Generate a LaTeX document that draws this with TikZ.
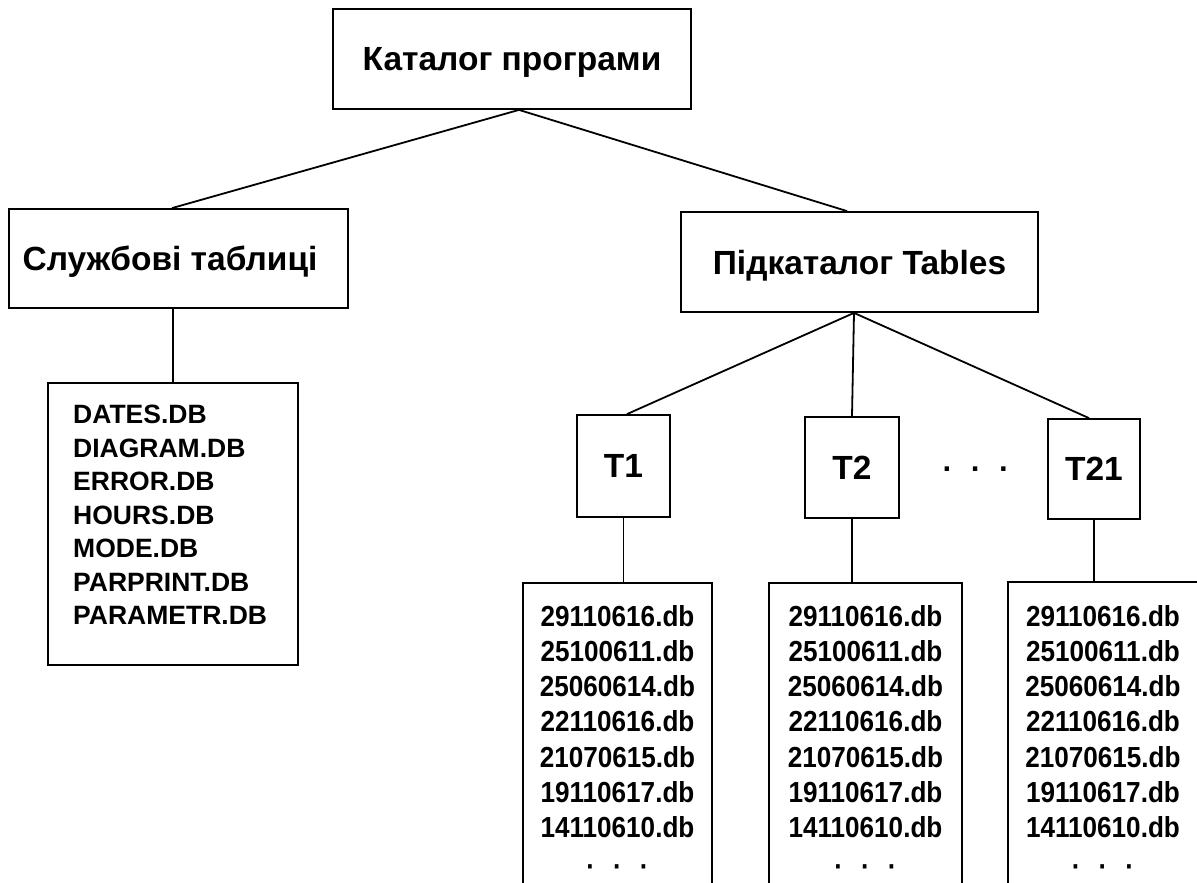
\documentclass[tikz,border=0pt]{standalone}
\usepackage{fontspec}
\setmainfont{Liberation Sans}
\newfontfamily\numfont[FakeStretch=0.9]{Liberation Sans Bold}
\newcommand\headfont{\fontsize{33.5}{40}\selectfont\bfseries}
\newcommand\dotrow{·\hskip18pt·\hskip18pt·}
\tikzset{
  box/.style={draw, line width=1.8pt, inner sep=0pt, text depth=0pt, font=\headfont},
  frame/.style={inner sep=0pt},
  link/.style={line width=1.8pt},
  filelist/.style={align=left, inner sep=0pt, font=\fontsize{26.5}{33.5}\selectfont\bfseries},
  numlist/.style={align=center, inner sep=0pt, font=\numfont\fontsize{29}{35.2}\selectfont},
}
\begin{document}
\begin{tikzpicture}[x=1pt, y=-1pt]
\useasboundingbox (0,0) rectangle (1197,883);
% header boxes
\node[box, minimum width=358pt, minimum height=100pt] (top) at (512,59) {Каталог програми};
\node[box, minimum width=339pt, minimum height=99pt] (sl) at (178.5,258.5) {Службові таблиці\hspace*{17pt}};
\node[box, minimum width=357pt, minimum height=100pt] (pt) at (859.5,262) {Підкаталог Tables};
% left file list
\node[box, minimum width=250pt, minimum height=282pt] (lst) at (173,524) {};
\node[filelist, anchor=north west] (ltext) at (73,405) {DATES.DB\\DIAGRAM.DB\\ERROR.DB\\HOURS.DB\\MODE.DB\\PARPRINT.DB\\PARAMETR.DB};
% T boxes
\node[box, minimum width=93pt, minimum height=102pt] (t1) at (623.5,466) {T1};
\node[box, minimum width=94pt, minimum height=101pt] (t2) at (852,467.5) {T2};
\node[box, minimum width=92pt, minimum height=100pt] (t21) at (1094,469) {T21};
\node[inner sep=0pt, anchor=base, font=\fontsize{31}{36}\selectfont\bfseries] (tdots) at (976,479) {\dotrow};
% open-bottom frames
\node[frame, minimum width=189pt, minimum height=310pt] (f1) at (617.5,738) {};
\node[frame, minimum width=193pt, minimum height=310pt] (f2) at (865.5,738) {};
\node[frame, minimum width=190pt, minimum height=312pt] (f3) at (1103,738) {};
\foreach \f in {f1,f2,f3}
  \draw[link] (\f.south west) -- (\f.north west) -- (\f.north east) -- (\f.south east);
\node[numlist, anchor=north] (n1) at (617.5,605) {29110616.db\\25100611.db\\25060614.db\\22110616.db\\21070615.db\\19110617.db\\14110610.db\\\raisebox{-4pt}{\dotrow}};
\node[numlist, anchor=north] (n2) at (865.5,605) {29110616.db\\25100611.db\\25060614.db\\22110616.db\\21070615.db\\19110617.db\\14110610.db\\\raisebox{-4pt}{\dotrow}};
\node[numlist, anchor=north] (n3) at (1103,605) {29110616.db\\25100611.db\\25060614.db\\22110616.db\\21070615.db\\19110617.db\\14110610.db\\\raisebox{-4pt}{\dotrow}};
% connectors
\draw[link] ([xshift=-6.5pt]sl.north) -- ([xshift=7pt]top.south) -- ([xshift=-12.5pt]pt.north);
\draw[link] (sl.south -| lst.north) -- (lst.north);
\draw[link] ([xshift=3.5pt]t1.north) -- ([xshift=-5.5pt]pt.south) -- ([xshift=-5pt]t21.north);
\draw[link] ([xshift=-5.5pt]pt.south) -- (t2.north);
\draw[link] (t1.south) -- (t1.south |- f1.north);
\draw[link] (t2.south) -- (t2.south |- f2.north);
\draw[link] (t21.south) -- (t21.south |- f3.north);
\end{tikzpicture}
\end{document}
